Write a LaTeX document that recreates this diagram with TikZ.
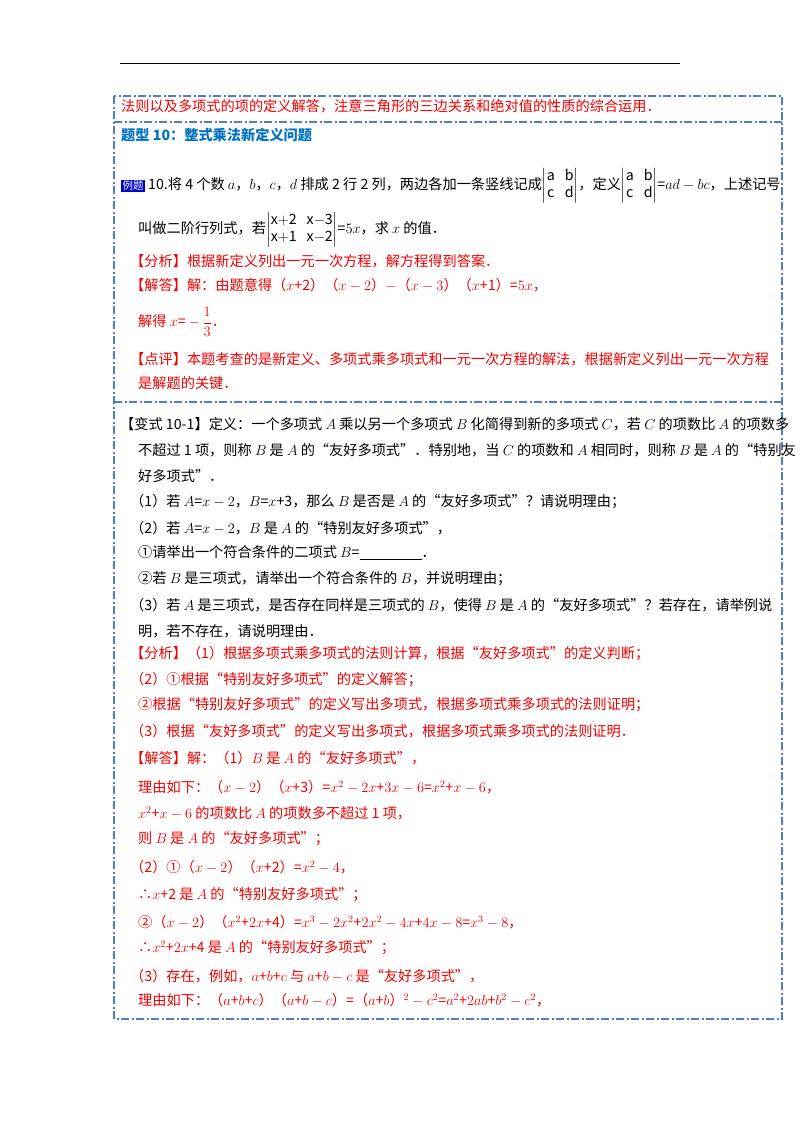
\documentclass[tikz,border=0pt]{standalone}
\usepackage{amsmath}
\usepackage{fontspec}
\setmainfont{Noto Sans CJK SC}
\definecolor{rd}{RGB}{240,0,0}
\definecolor{bl}{RGB}{0,112,192}
\definecolor{bx}{RGB}{80,125,200}
\begin{document}
\begin{tikzpicture}[x=1pt,y=-1pt,
 t/.style={anchor=west,inner sep=0pt,font=\fontsize{14.2}{17}\selectfont},
 r/.style={t,text=rd},
 frame/.style={draw=bx,line width=1.1pt,dash pattern=on 8pt off 2.5pt on 2pt off 2.5pt}]
\useasboundingbox (0,0) rectangle (800,1132);
\draw[line width=0.8pt] (120,63) -- (680,63);
\draw[frame] (114,96) rectangle (782,1019);
\draw[frame] (114,122) -- (782,122);
\draw[frame] (114,402) -- (782,402);
\node[r] (h) at (121,106) {法则以及多项式的项的定义解答，注意三角形的三边关系和绝对值的性质的综合运用．};
\node[t,text=bl,font=\fontsize{14.2}{17}\bfseries\selectfont] (tt) at (121,135) {题型 10：整式乘法新定义问题};
\node[anchor=west,fill=blue!80!black,text=white,inner sep=1.5pt,font=\fontsize{10.5}{11}\selectfont] (badge) at (121,186) {例题};
\node[t] (l1) at (148,186) {10.将 4 个数 $a$，$b$，$c$，$d$ 排成 2 行 2 列，两边各加一条竖线记成$\left|\begin{array}{@{}cc@{}}\mathrm{a}&\mathrm{b}\\ \mathrm{c}&\mathrm{d}\end{array}\right|$，定义$\left|\begin{array}{@{}cc@{}}\mathrm{a}&\mathrm{b}\\ \mathrm{c}&\mathrm{d}\end{array}\right|$=$ad-bc$，上述记号};
\node[t] (l2) at (138,230) {叫做二阶行列式，若$\left|\begin{array}{@{}cc@{}}\mathrm{x{+}2}&\mathrm{x{-}3}\\ \mathrm{x{+}1}&\mathrm{x{-}2}\end{array}\right|$=$5x$，求 $x$ 的值．};
\node[r] (l3) at (130,261) {【分析】根据新定义列出一元一次方程，解方程得到答案．};
\node[r] (l4) at (130,285) {【解答】解：由题意得（$x$+2）（$x-2$）$-$（$x-3$）（$x$+1）=$5x$，};
\node[r] (l5) at (138,322) {解得 $x$= $-\,\dfrac{1}{3}$．};
\node[r] (l6) at (130,359) {【点评】本题考查的是新定义、多项式乘多项式和一元一次方程的解法，根据新定义列出一元一次方程};
\node[r] (l7) at (138,383) {是解题的关键．};
\node[t] (m1) at (120,424) {【变式 10-1】定义：一个多项式 $A$ 乘以另一个多项式 $B$ 化简得到新的多项式 $C$，若 $C$ 的项数比 $A$ 的项数多};
\node[t] (m2) at (138,450) {不超过 1 项，则称 $B$ 是 $A$ 的“友好多项式”．特别地，当 $C$ 的项数和 $A$ 相同时，则称 $B$ 是 $A$ 的“特别友};
\node[t] (m3) at (138,476) {好多项式”．};
\node[t] (m4) at (130,502) {（1）若 $A$=$x-2$，$B$=$x$+3，那么 $B$ 是否是 $A$ 的“友好多项式”？请说明理由；};
\node[t] (m5) at (130,528) {（2）若 $A$=$x-2$，$B$ 是 $A$ 的“特别友好多项式”，};
\node[t] (m6) at (138,553) {①请举出一个符合条件的二项式 $B$=\underline{\hspace{62pt}}．};
\node[t] (m7) at (138,579) {②若 $B$ 是三项式，请举出一个符合条件的 $B$，并说明理由；};
\node[t] (m8) at (130,605) {（3）若 $A$ 是三项式，是否存在同样是三项式的 $B$，使得 $B$ 是 $A$ 的“友好多项式”？若存在，请举例说};
\node[t] (m9) at (138,631) {明，若不存在，请说明理由．};
\node[r] (n1) at (130,654) {【分析】（1）根据多项式乘多项式的法则计算，根据“友好多项式”的定义判断；};
\node[r] (n2) at (130,680) {（2）①根据“特别友好多项式”的定义解答；};
\node[r] (n3) at (138,705) {②根据“特别友好多项式”的定义写出多项式，根据多项式乘多项式的法则证明；};
\node[r] (n4) at (130,731) {（3）根据“友好多项式”的定义写出多项式，根据多项式乘多项式的法则证明．};
\node[r] (n5) at (130,758) {【解答】解：（1）$B$ 是 $A$ 的“友好多项式”，};
\node[r] (n6) at (138,787) {理由如下：（$x-2$）（$x$+3）=$x^2-2x$+$3x-6$=$x^2$+$x-6$，};
\node[r] (n7) at (138,813) {$x^2$+$x-6$ 的项数比 $A$ 的项数多不超过 1 项，};
\node[r] (n8) at (138,839) {则 $B$ 是 $A$ 的“友好多项式”；};
\node[r] (n9) at (130,867) {（2）①（$x-2$）（$x$+2）=$x^2-4$，};
\node[r] (n10) at (138,895) {∴$x$+2 是 $A$ 的“特别友好多项式”；};
\node[r] (n11) at (138,922) {②（$x-2$）（$x^2$+$2x$+4）=$x^3-2x^2$+$2x^2-4x$+$4x-8$=$x^3-8$，};
\node[r] (n12) at (138,948) {∴$x^2$+$2x$+4 是 $A$ 的“特别友好多项式”；};
\node[r] (n13) at (130,976) {（3）存在，例如，$a$+$b$+$c$ 与 $a$+$b-c$ 是“友好多项式”，};
\node[r] (n14) at (138,1000) {理由如下：（$a$+$b$+$c$）（$a$+$b-c$）=（$a$+$b$）$^2-c^2$=$a^2$+$2ab$+$b^2-c^2$，};
\end{tikzpicture}
\end{document}
